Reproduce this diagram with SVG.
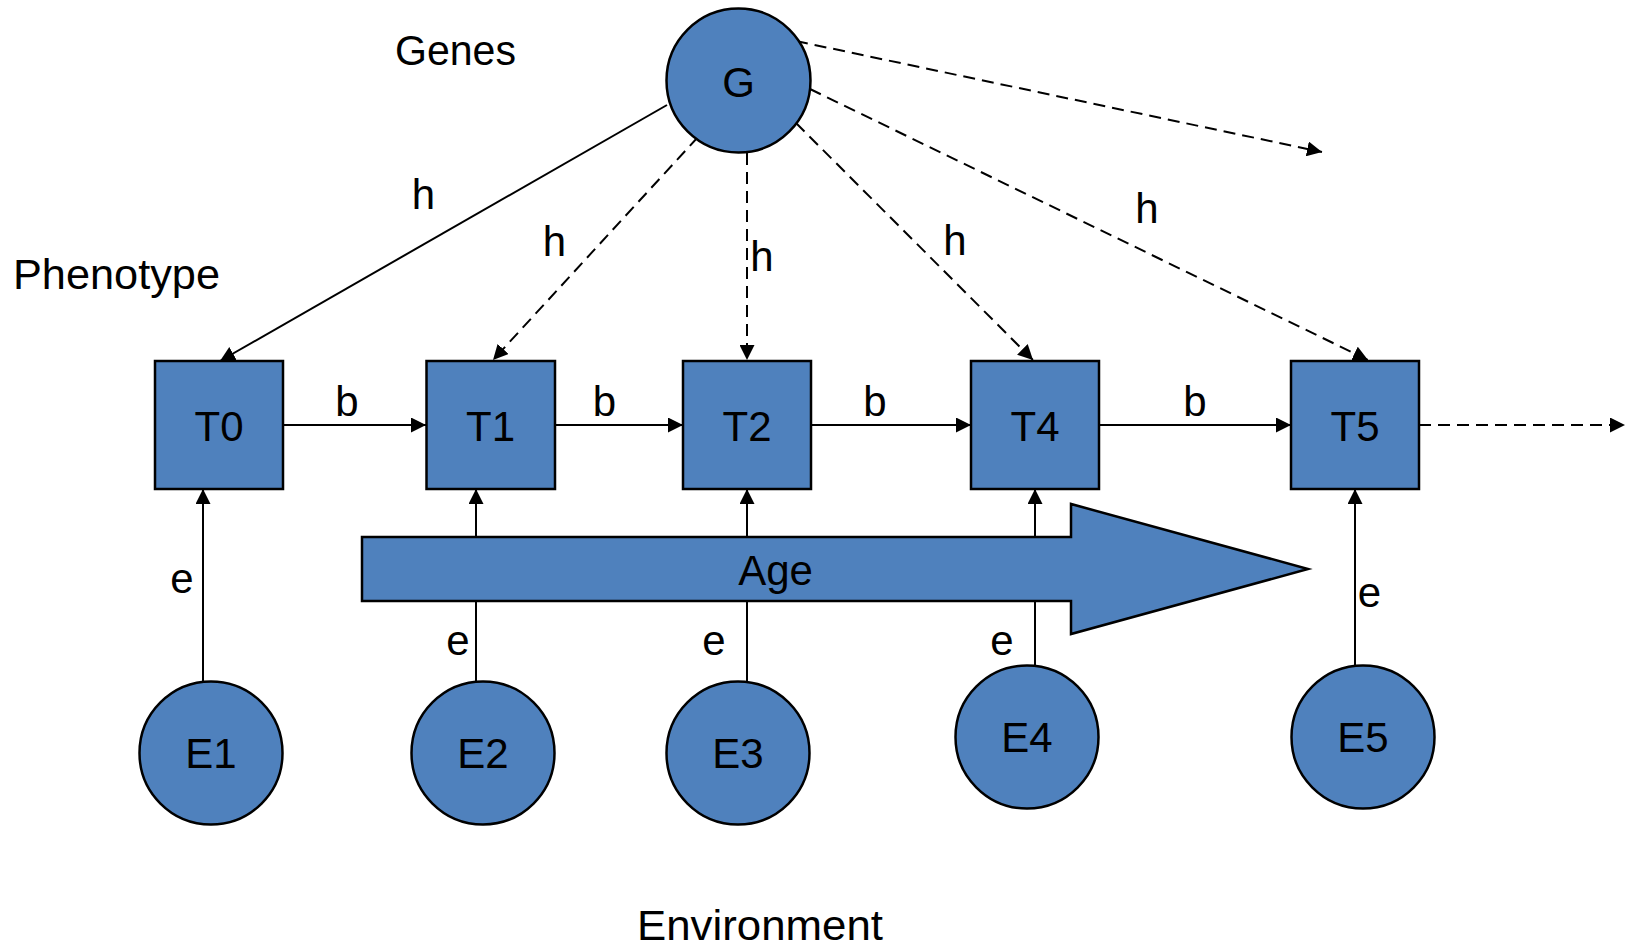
<svg xmlns="http://www.w3.org/2000/svg" width="1627" height="950" viewBox="0 0 1627 950">
<style>
.node{fill:#4F81BD;stroke:#000;stroke-width:2.5}
.lbl{font-family:"Liberation Sans",Arial,sans-serif;font-size:42px;fill:#000;text-anchor:middle}
.t{font-family:"Liberation Sans",Arial,sans-serif;font-size:42px;fill:#000}
.c{stroke:#000;stroke-width:2;fill:none;marker-end:url(#ah)}
.d{stroke-dasharray:12 7}
</style>
<defs>
<marker id="ah" markerWidth="15" markerHeight="15" refX="15" refY="7.5" orient="auto" markerUnits="userSpaceOnUse">
<path d="M0,0 L15,7.5 L0,15 Z" fill="#000"/>
</marker>
</defs>
<rect width="1627" height="950" fill="#fff"/>
<g id="titles">
<text class="t" x="395" y="65" textLength="121" lengthAdjust="spacingAndGlyphs">Genes</text>
<text class="t" x="13" y="289" textLength="207" lengthAdjust="spacingAndGlyphs">Phenotype</text>
<text class="t" x="637" y="940" textLength="246" lengthAdjust="spacingAndGlyphs">Environment</text>
</g>
<g id="connectors">
<line class="c" x1="667" y1="105" x2="220" y2="361"/>
<line class="c d" x1="698" y1="137" x2="493" y2="360"/>
<line class="c d" x1="747" y1="153" x2="747" y2="360"/>
<line class="c d" x1="796" y1="123" x2="1033" y2="360"/>
<line class="c d" x1="810" y1="89" x2="1368" y2="360"/>
<line class="c d" x1="796" y1="41" x2="1322" y2="152"/>
<line class="c" x1="283" y1="425" x2="426" y2="425"/>
<line class="c" x1="555" y1="425" x2="683" y2="425"/>
<line class="c" x1="811" y1="425" x2="971" y2="425"/>
<line class="c" x1="1099" y1="425" x2="1291" y2="425"/>
<line class="c d" x1="1419" y1="425" x2="1625" y2="425"/>
<line class="c" x1="203" y1="682" x2="203" y2="489"/>
<line class="c" x1="476" y1="682" x2="476" y2="489"/>
<line class="c" x1="747" y1="682" x2="747" y2="489"/>
<line class="c" x1="1035" y1="666" x2="1035" y2="489"/>
<line class="c" x1="1355" y1="666" x2="1355" y2="489"/>
<text class="lbl" x="423.5" y="209">h</text>
<text class="lbl" x="554.5" y="256">h</text>
<text class="lbl" x="762" y="271">h</text>
<text class="lbl" x="955" y="255">h</text>
<text class="lbl" x="1147" y="223">h</text>
<text class="lbl" x="347" y="416">b</text>
<text class="lbl" x="604.5" y="416">b</text>
<text class="lbl" x="875" y="416">b</text>
<text class="lbl" x="1195" y="416">b</text>
<text class="lbl" x="182" y="593">e</text>
<text class="lbl" x="458" y="655">e</text>
<text class="lbl" x="714" y="655">e</text>
<text class="lbl" x="1002" y="655">e</text>
<text class="lbl" x="1369.5" y="607">e</text>
</g>
<g id="age">
<path class="node" d="M362,537 H1071 V504 L1308,569 L1071,634 V601 H362 Z"/>
<text class="lbl" x="775.5" y="585">Age</text>
</g>
<g id="G"><circle class="node" cx="738.5" cy="80.5" r="72"/><text class="lbl" x="738.5" y="97">G</text></g>
<g id="T0"><rect class="node" x="155" y="361" width="128" height="128"/><text class="lbl" x="219" y="441">T0</text></g>
<g id="T1"><rect class="node" x="426.5" y="361" width="128.5" height="128"/><text class="lbl" x="490.5" y="441">T1</text></g>
<g id="T2"><rect class="node" x="683" y="361" width="128" height="128"/><text class="lbl" x="747" y="441">T2</text></g>
<g id="T4"><rect class="node" x="971" y="361" width="128" height="128"/><text class="lbl" x="1035" y="441">T4</text></g>
<g id="T5"><rect class="node" x="1291" y="361" width="128" height="128"/><text class="lbl" x="1355" y="441">T5</text></g>
<g id="E1"><circle class="node" cx="211" cy="753" r="71.5"/><text class="lbl" x="211" y="768">E1</text></g>
<g id="E2"><circle class="node" cx="483" cy="753" r="71.5"/><text class="lbl" x="483" y="768">E2</text></g>
<g id="E3"><circle class="node" cx="738" cy="753" r="71.5"/><text class="lbl" x="738" y="768">E3</text></g>
<g id="E4"><circle class="node" cx="1027" cy="737" r="71.5"/><text class="lbl" x="1027" y="752">E4</text></g>
<g id="E5"><circle class="node" cx="1363" cy="737" r="71.5"/><text class="lbl" x="1363" y="752">E5</text></g>
</svg>
